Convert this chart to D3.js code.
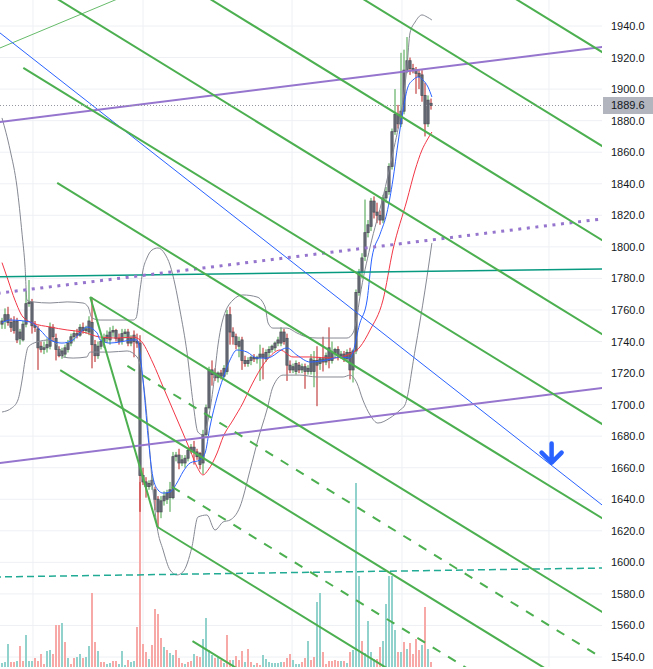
<!DOCTYPE html>
<html>
<head>
<meta charset="utf-8">
<script src="https://cdn.jsdelivr.net/npm/d3@7"></script>
<style>
  html, body { margin: 0; padding: 0; background: #fff; }
  svg { display: block; font-family: "Liberation Sans", Arial, sans-serif; }
</style>
</head>
<body>
<svg id="chart" width="653" height="669"></svg>
<script>
// ---- values ----
const priceTicks = [1540, 1560, 1580, 1600, 1620, 1640, 1660, 1680, 1700, 1720,
                    1740, 1760, 1780, 1800, 1820, 1840, 1860, 1880, 1900, 1920, 1940];
// bar positions of the vertical (session) grid lines
const timeGrid = [10.33, 47, 96.67, 133.33, 182.33];
const lastPrice = 1889.6;

// [open, high, low, close], one row per bar
const candles = [
  [1751,1755,1748,1753],[1753,1761,1748,1757],[1757,1762,1750,1752],[1752,1755,1746,1749],
  [1753,1756,1745,1747],[1753,1755,1739,1741],[1742,1748,1738,1746],[1741,1753,1740,1751],
  [1751,1772,1749,1764],[1764,1779,1762,1765],[1765,1767,1745,1750],[1750,1753,1746,1749],
  [1748,1750,1722,1736],[1737,1740,1733,1735],[1735,1740,1732,1736],[1736,1742,1733,1738],
  [1737,1752,1735,1749],[1749,1751,1740,1743],[1742,1745,1728,1735],[1735,1737,1730,1731],
  [1731,1736,1729,1734],[1732,1738,1730,1736],[1735,1741,1733,1739],[1739,1745,1737,1743],
  [1743,1747,1740,1745],[1745,1748,1742,1744],[1744,1751,1743,1749],[1749,1752,1745,1747],
  [1747,1750,1745,1748],[1746,1756,1744,1753],[1752,1768,1723,1738],[1738,1741,1727,1731],
  [1731,1740,1729,1737],[1737,1742,1735,1740],[1740,1745,1736,1742],[1742,1747,1739,1744],
  [1741,1749,1738,1746],[1746,1750,1743,1747],[1747,1748,1740,1742],[1742,1745,1738,1740],
  [1740,1748,1738,1745],[1745,1748,1742,1746],[1746,1748,1737,1739],[1739,1744,1737,1742],
  [1744,1747,1730,1740],[1740,1745,1736,1739],[1739,1744,1632,1655],[1655,1660,1649,1651],
  [1651,1654,1641,1648],[1648,1652,1646,1650],[1649,1655,1646,1652],[1646,1648,1633,1640],
  [1640,1642,1622,1632],[1632,1642,1628,1639],[1639,1645,1636,1642],[1640,1646,1637,1644],
  [1641,1651,1632,1646],[1641,1670,1640,1667],[1667,1670,1664,1668],[1668,1672,1659,1663],
  [1663,1668,1661,1665],[1663,1668,1660,1666],[1666,1673,1664,1671],[1671,1675,1669,1673],
  [1673,1677,1662,1670],[1670,1672,1665,1667],[1669,1670,1659,1662],[1663,1684,1656,1681],
  [1681,1700,1679,1698],[1698,1724,1697,1722],[1722,1728,1712,1719],[1720,1723,1715,1717],
  [1717,1721,1714,1720],[1720,1722,1716,1718],[1718,1725,1717,1723],[1721,1760,1719,1757],
  [1757,1762,1738,1746],[1746,1749,1738,1743],[1743,1745,1735,1738],[1737,1743,1730,1740],
  [1741,1743,1722,1728],[1728,1731,1724,1726],[1726,1730,1724,1728],[1728,1731,1725,1730],
  [1730,1732,1727,1729],[1729,1731,1726,1730],[1730,1738,1715,1732],[1732,1736,1716,1730],
  [1729,1735,1727,1733],[1733,1737,1730,1735],[1735,1738,1733,1737],[1736,1740,1734,1739],
  [1739,1743,1737,1741],[1739,1749,1737,1746],[1746,1748,1738,1740],[1742,1745,1715,1725],
  [1725,1728,1720,1722],[1722,1726,1720,1724],[1721,1728,1719,1726],[1725,1727,1720,1722],
  [1722,1726,1720,1724],[1724,1726,1710,1721],[1721,1725,1719,1723],[1721,1732,1719,1729],
  [1721,1734,1711,1728],[1728,1737,1699,1725],[1726,1730,1722,1729],[1729,1743,1721,1727],
  [1727,1733,1725,1731],[1736,1749,1723,1728],[1728,1740,1726,1733],[1733,1736,1730,1735],
  [1735,1737,1728,1731],[1731,1734,1729,1732],[1732,1734,1727,1729],[1729,1735,1727,1733],
  [1733,1736,1716,1722],[1722,1735,1714,1734],[1734,1773,1732,1771],[1771,1786,1769,1784],
  [1784,1796,1780,1793],[1794,1830,1791,1809],[1809,1817,1806,1814],[1813,1831,1810,1829],
  [1829,1832,1818,1822],[1822,1828,1815,1820],[1820,1823,1814,1817],[1817,1833,1815,1831],
  [1831,1838,1828,1835],[1835,1853,1833,1851],[1851,1875,1849,1873],[1873,1900,1871,1884],
  [1884,1890,1875,1878],[1878,1923,1876,1886],[1886,1925,1884,1912],[1912,1933,1910,1918],
  [1918,1920,1909,1913],[1913,1916,1910,1912],[1912,1914,1897,1910],[1910,1912,1900,1908],
  [1909,1912,1892,1896],[1896,1904,1870,1878],[1878,1896,1876,1893],[1891,1894,1887,1889.6]
];

// volume per bar and its colour as seen in the picture (u = up, d = down)
const volumes = [
  4,5,23,5,5,6,21,6,32,6, 6,9,6,13,3,16,17,13,42,42, 44,25,9,3,9,10,13,9,10,21,
  74,25,16,5,5,3,4,6,6,3, 16,2,7,5,6,40,185,23,15,8, 22,58,53,29,20,17,14,12,17,9,
  4,3,5,6,13,11,10,28,49,17, 12,9,10,7,4,32,7,7,11,7, 16,5,18,5,2,4,2,12,8,5,
  4,4,4,5,5,9,13,7,3,3, 5,9,26,7,10,65,74,15,3,6, 6,7,6,6,6,4,15,17,184,91,
  26,14,46,15,8,8,20,26,63,91, 91,37,15,15,25,18,24,13,28,17, 22,60,18,5
];
const volumeDir =
  'uuuddudduu' + 'udddduuddd' + 'ududduuduu' + 'ddudduuddu' +
  'uuduuddddu' + 'dddduduudd' + 'duddudduuu' + 'udududdudd' +
  'duddudduuu' + 'uuuuddduuu' + 'ddudduuddd' + 'dddududuuu' + 'duuuudduuu' +
  'uudududddd' + 'udud';

// indicator lines read as [bar, price] points
const emaFast = [[0,1752],[2.7,1753.6],[9.3,1752.4],[12.7,1747.3],[16,1741],[20,1739],[23.7,1741],
  [26,1745.4],[28.3,1749.2],[31.7,1745.4],[32.7,1741],[36,1739],[39.3,1739.7],[43.7,1741],[45,1741],
  [47,1715.6],[48.7,1679.5],[50.3,1654.1],[52,1645.9],[53.7,1643.9],[56,1644.6],[58.3,1650.3],
  [60.3,1657.3],[62.7,1663],[66,1664.9],[67.7,1669.3],[69.3,1685.8],[71.7,1704.8],[73.7,1716.9],
  [76,1728.3],[78.3,1734.6],[81.7,1733.3],[85,1729.5],[88.3,1729.5],[95,1735.9],[98.3,1731.4],
  [102.7,1727],[108.3,1728.3],[112.7,1730.2],[116,1729.5],[119.3,1751.7],[121.7,1766.3],
  [123.3,1793],[126,1808],[128.3,1821.5],[130.3,1842.4],[132,1865.8],[133.7,1886.8],[135.3,1901.3],
  [137,1905.8],[138.7,1907.7],[140.3,1905.8],[142,1901.3],[143.3,1895]];
const emaSlow = [[0,1790],[2,1779],[4.3,1766.3],[7,1755.5],[10.3,1751.7],[16,1749.2],[21.7,1747.3],
  [27,1746],[32.7,1742.8],[38.3,1742.2],[43.7,1742.8],[46,1741],[50.3,1726.4],[53.7,1711.2],
  [57,1696.6],[60.3,1682],[62.7,1671.2],[65,1660.5],[67,1655.4],[68.7,1658.5],[71.7,1669.3],
  [73.7,1679.5],[77,1690.2],[80.3,1701],[82.7,1710.5],[88.3,1728.3],[92.7,1734.6],[97,1730.2],
  [102.7,1730.2],[110.3,1729.5],[115,1731.4],[119.3,1736.5],[122.7,1747.3],[127,1766.3],
  [130.3,1798],[135,1829.7],[137.7,1848.7],[140,1861.4],[141.7,1867.7],[143.3,1872.8]];
const bbUpper = [[0,1881.7],[2.7,1861.4],[5,1838],[6.7,1808],[7.7,1787],[8.3,1766.3],[10.3,1765.1],
  [16,1764.4],[21.7,1765.1],[27,1764.4],[28.7,1761.9],[30,1754.9],[32.7,1753.6],[43.7,1753.6],
  [44.7,1754.9],[46,1772.6],[47,1785.3],[48.3,1792.9],[50,1798],[52,1799.3],[54.3,1795.5],
  [56,1788.5],[57.7,1775.8],[59.3,1760],[61.7,1732.7],[63.7,1701],[65.3,1682.6],[67,1680.7],
  [68.7,1690.2],[70.3,1709.3],[72,1737.8],[73.3,1751.7],[77,1766.3],[80.3,1769.5],[85,1768.2],
  [87.7,1761.9],[88.7,1751.7],[90.3,1748.5],[95,1748.5],[98.3,1745.4],[101.7,1742.8],[105,1742.2],
  [115,1742.2],[117,1745.4],[118.3,1755.5],[119.3,1768.2],[122.7,1799.9],[127,1831.6],
  [130.3,1859.5],[133.3,1888.7],[135,1914],[136,1935.6],[137.7,1942.5],[140,1947],[141.7,1945.7],
  [143.3,1943.8]];
const bbLower = [[0,1695.3],[3.3,1697.9],[5.3,1702.9],[6.7,1715.6],[7.7,1728.3],[8.7,1736.5],
  [11.7,1739.7],[16,1741],[18.3,1737.8],[20.3,1730.2],[23.7,1729.5],[28.3,1730.2],[29.3,1733.3],
  [36,1733.3],[41.7,1734],[45,1730.2],[47,1715.6],[48.7,1683.9],[50,1652.2],[51.7,1622.4],
  [53.7,1607.8],[56,1595.2],[58.3,1592],[60.3,1593.9],[63.3,1609.7],[65.3,1628.7],[68.3,1630],
  [71,1620.5],[73.7,1625.6],[76,1626.8],[79.3,1635.1],[82.7,1658.5],[85.3,1677.6],[88.3,1696.6],
  [90.3,1711.2],[93.7,1718.7],[99.3,1718.7],[105,1717.5],[113.7,1717.5],[116,1718.7],
  [118.3,1713.7],[120.3,1702.9],[122.7,1693.4],[125.3,1688.3],[129.3,1691.5],[132.7,1696.6],
  [134.3,1699.7],[137.7,1734.6],[141,1772.6],[143.3,1802.4]];

// drawings: the green channel family shares one slope (price per bar)
const greenSlope = -1.17;
const greenRays = [[168.8,1960],[117.9,1960],[66.9,1960],[16,1960],[7.1,1913.4],[18.4,1840.5],
                   [29.4,1768.2],[19.4,1721.9],[51.8,1622.4],[63.5,1550.1]];
const greenDashedRays = [[41.8,1724.5],[56.7,1647.8]];
const forkHandle = [[29.4,1768.2],[51.8,1622.4]];
const purpleLines = [[[0,1879.3],[200,1926.7]], [[0,1663.2],[200,1710.5]]];
const purpleDotted = [[0,1770.9],[200,1817.7]];
const tealLine = [[0,1781.0],[200,1786.0]];
const tealDashed = [[0,1590.8],[200,1596.4]];
const blueLine = [[0,1934.6],[200,1636.4]];
const thinGreen = [[0,1926.6],[37.7,1956.5]];
const arrowAt = [183.2, 1662];

// ---- layout ----
const width = 653, height = 669;
const plotRight = 602, plotBottom = 667;

const x = d3.scaleLinear().domain([0, 200]).range([2, 602]);
const y = d3.scaleLinear().domain([1540, 1940]).range([657, 26]);
const vy = d3.scaleLinear().domain([0, 200]).range([plotBottom, plotBottom - 200]);

const svg = d3.select('#chart');

svg.append('defs').append('clipPath').attr('id', 'plot')
  .append('rect').attr('width', plotRight).attr('height', plotBottom);

const plot = svg.append('g').attr('clip-path', 'url(#plot)');

const line = d3.line().x(d => x(d[0])).y(d => y(d[1]));
const curve = d3.line().x(d => x(d[0])).y(d => y(d[1])).curve(d3.curveMonotoneX);

// Stretch a two point line across the whole plot
function extend([a, b]) {
  const k = (b[1] - a[1]) / (b[0] - a[0]);
  return [[-10, a[1] + k * (-10 - a[0])], [210, a[1] + k * (210 - a[0])]];
}
// Ray from a start point, following the shared channel slope
function ray(p) {
  return [p, [210, p[1] + greenSlope * (210 - p[0])]];
}

// Grid
plot.append('g').selectAll('line').data(priceTicks).join('line')
  .attr('x1', 0).attr('x2', plotRight)
  .attr('y1', d => y(d)).attr('y2', d => y(d))
  .attr('stroke', '#eef0f4').attr('stroke-width', 1);
plot.append('g').selectAll('line').data(timeGrid).join('line')
  .attr('x1', d => x(d)).attr('x2', d => x(d))
  .attr('y1', 0).attr('y2', plotBottom)
  .attr('stroke', '#eef0f4').attr('stroke-width', 1);

// Volume histogram
plot.append('g').selectAll('rect').data(volumes).join('rect')
  .attr('x', (d, i) => x(i) - 1)
  .attr('width', 2)
  .attr('y', d => vy(d))
  .attr('height', d => plotBottom - vy(d))
  .attr('fill', (d, i) => volumeDir[i] === 'u' ? '#92d2cc' : '#f7a9a7');

// Candles: coloured wicks, grey bodies
const candleG = plot.append('g');
candleG.selectAll('line').data(candles).join('line')
  .attr('x1', (d, i) => x(i)).attr('x2', (d, i) => x(i))
  .attr('y1', d => y(d[1])).attr('y2', d => y(d[2]))
  .attr('stroke', d => d[3] >= d[0] ? '#43a047' : '#b71c1c')
  .attr('stroke-width', 1);
candleG.selectAll('rect').data(candles).join('rect')
  .attr('x', (d, i) => x(i) - 1.1)
  .attr('width', 2.2)
  .attr('y', d => y(Math.max(d[0], d[3])))
  .attr('height', d => Math.max(1, Math.abs(y(d[0]) - y(d[3]))))
  .attr('fill', '#6c6f79')
  .attr('stroke', '#4c4f58')
  .attr('stroke-width', 0.8);

// Indicators
[bbUpper, bbLower].forEach(band => {
  plot.append('path').datum(band).attr('d', curve)
    .attr('fill', 'none').attr('stroke', '#868993').attr('stroke-width', 1);
});
plot.append('path').datum(emaSlow).attr('d', curve)
  .attr('fill', 'none').attr('stroke', '#f23645').attr('stroke-width', 1);
plot.append('path').datum(emaFast).attr('d', curve)
  .attr('fill', 'none').attr('stroke', '#2962ff').attr('stroke-width', 1);

// Drawings
const draw = plot.append('g').attr('fill', 'none');
draw.append('path').datum(extend(thinGreen)).attr('d', line)
  .attr('stroke', '#66bb6a').attr('stroke-width', 1);
draw.append('path').datum(extend(tealLine)).attr('d', line)
  .attr('stroke', '#089981').attr('stroke-width', 1.5);
draw.append('path').datum(extend(tealDashed)).attr('d', line)
  .attr('stroke', '#22ab94').attr('stroke-width', 1.5).attr('stroke-dasharray', '7,4');
draw.append('path').datum(extend(blueLine)).attr('d', line)
  .attr('stroke', '#2962ff').attr('stroke-width', 1);
draw.append('path').datum(extend(purpleDotted)).attr('d', line)
  .attr('stroke', '#9575cd').attr('stroke-width', 3).attr('stroke-dasharray', '3,5.6');
purpleLines.forEach(l => {
  draw.append('path').datum(extend(l)).attr('d', line)
    .attr('stroke', '#9575cd').attr('stroke-width', 2);
});
greenRays.forEach(p => {
  draw.append('path').datum(ray(p)).attr('d', line)
    .attr('stroke', '#4caf50').attr('stroke-width', 2);
});
greenDashedRays.forEach(p => {
  draw.append('path').datum(ray(p)).attr('d', line)
    .attr('stroke', '#4caf50').attr('stroke-width', 2).attr('stroke-dasharray', '9,9');
});
draw.append('path').datum(forkHandle).attr('d', line)
  .attr('stroke', '#4caf50').attr('stroke-width', 2);

// Down arrow marker (tip sits on the anchor)
draw.append('path')
  .attr('transform', `translate(${x(arrowAt[0])},${y(arrowAt[1])})`)
  .attr('d', 'M0,-21 L0,-2 M-10,-12 L0,-2 L10,-12')
  .attr('stroke', '#2962ff').attr('stroke-width', 4.5)
  .attr('stroke-linecap', 'round').attr('stroke-linejoin', 'round');

// Last price line
plot.append('line')
  .attr('x1', 0).attr('x2', plotRight)
  .attr('y1', y(lastPrice)).attr('y2', y(lastPrice))
  .attr('stroke', '#9598a1').attr('stroke-width', 1).attr('stroke-dasharray', '1,2');

// Price axis on the right
const axis = svg.append('g')
  .attr('transform', `translate(${plotRight},0)`)
  .call(d3.axisRight(y).tickValues(priceTicks).tickFormat(d3.format('.1f'))
          .tickSize(0).tickPadding(9));
axis.select('.domain').remove();
axis.selectAll('text')
  .attr('fill', '#131722')
  .style('font-size', '11px')
  .style('font-family', '"Liberation Sans", Arial, sans-serif');

// Last price tag
const tag = svg.append('g').attr('transform', `translate(${plotRight + 1},${y(lastPrice)})`);
tag.append('rect').attr('x', 0).attr('y', -8.5).attr('width', 50).attr('height', 17)
  .attr('fill', '#b2b5be');
tag.append('text').attr('x', 8).attr('dy', '0.35em')
  .attr('fill', '#131722').style('font-size', '11px')
  .text(d3.format('.1f')(lastPrice));
</script>
</body>
</html>
